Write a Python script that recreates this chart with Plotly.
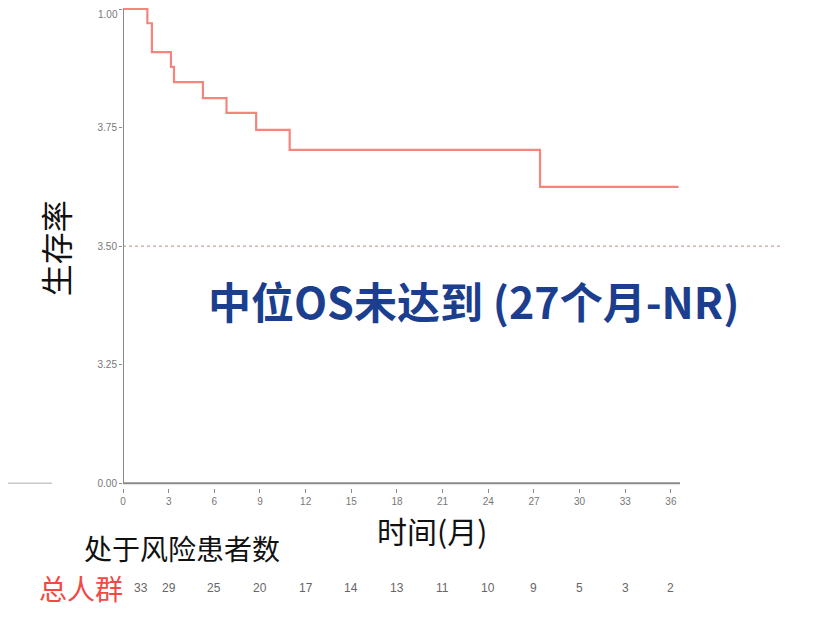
import plotly.graph_objects as go

# Kaplan-Meier step data (months, survival)
km_time = [0, 1.6, 1.9, 3.15, 3.35, 5.25, 6.8, 8.75, 10.95, 27.4, 36.5]
km_surv = [1.0, 0.970, 0.909, 0.878, 0.846, 0.812, 0.781, 0.745, 0.703, 0.625, 0.625]

x_ticks = [0, 3, 6, 9, 12, 15, 18, 21, 24, 27, 30, 33, 36]
y_ticks = [0, 0.25, 0.5, 0.75, 1.0]
y_tick_text = ["0.00", "3.25", "3.50", "3.75", "1.00"]

risk_times = [0, 3, 6, 9, 12, 15, 18, 21, 24, 27, 30, 33, 36]
risk_counts = [33, 29, 25, 20, 17, 14, 13, 11, 10, 9, 5, 3, 2]

W, H = 818, 632
OFF = 8  # page body offset
X0_PX, PX_PER_MONTH = 123 - OFF, 15.22
Y0_PX, PX_PER_UNIT = 483 - OFF, 474
PLOT_RIGHT = 780 - OFF
PLOT_TOP = 0
x_max = (PLOT_RIGHT - X0_PX) / PX_PER_MONTH
y_hi = (Y0_PX - PLOT_TOP) / PX_PER_UNIT
y_lo = -0.01
PLOT_BOTTOM = Y0_PX - y_lo * PX_PER_UNIT
PW = PLOT_RIGHT - X0_PX
PH = PLOT_BOTTOM - PLOT_TOP


def px_(sx):  # screenshot x -> paper x
    return (sx - OFF - X0_PX) / PW


def py_(sy):  # screenshot y -> paper y
    return (PLOT_BOTTOM - (sy - OFF)) / PH


def mx(sx):
    return (sx - OFF - X0_PX) / PX_PER_MONTH


CJK = "Noto Sans CJK SC, Noto Sans, sans-serif"
TICKF = dict(family="Liberation Sans, Arial, sans-serif", size=10, color="#777777")

fig = go.Figure()
fig.add_trace(go.Scatter(
    x=km_time, y=km_surv, mode="lines", line=dict(color="#f4857c", width=2.2, shape="hv"),
    hoverinfo="skip", showlegend=False))

shapes = [
    dict(type="line", xref="x", yref="y", x0=0, x1=x_max, y0=0.5, y1=0.5,
         line=dict(color="#b0908a", width=1, dash="dot")),
    dict(type="line", xref="x", yref="y", x0=0, x1=mx(680), y0=0, y1=0,
         line=dict(color="#8a8a8a", width=2)),
    dict(type="line", xref="x", yref="y", x0=0, x1=0, y0=0, y1=1.0,
         line=dict(color="#8a8a8a", width=2)),
    dict(type="line", xref="paper", yref="y", x0=px_(0), x1=px_(52),
         y0=0, y1=0, line=dict(color="#c8c8c8", width=1.5)),
]


def txt(s, sx, sy, size, color="#111111", **kw):
    font = dict(family=kw.pop("family", CJK), size=size, color=color)
    if kw.pop("bold", False):
        font["weight"] = "bold"
    return dict(text=s, x=px_(sx), y=py_(sy), xref="paper", yref="paper", showarrow=False,
                xanchor="center", yanchor="middle", font=font, **kw)


ann = [
    txt("中位OS未达到 (27个月-NR)", 473, 300, 43, "#1b3f8e", bold=True),
    txt("时间(月)", 432, 530, 30),
    txt("生存率", 55, 248, 32, textangle=-90),
    txt("处于风险患者数", 182, 548, 28),
    txt("总人群", 81, 588, 28, "#f04a45"),
    # top tick label placed just inside the page edge so it is not cut off
    dict(text=y_tick_text[-1], x=px_(119), y=1, xref="paper", yref="paper", showarrow=False,
         xanchor="right", yanchor="top", borderpad=0, font=TICKF),
]
for i, (t, c) in enumerate(zip(risk_times, risk_counts)):
    ann.append(dict(text=str(c), x=t, y=py_(588), xref="x", yref="paper", showarrow=False,
                    xshift=18 if i == 0 else 0, yanchor="middle",
                    font=dict(family="Liberation Sans, Arial, sans-serif", size=12, color="#666666")))

fig.update_layout(
    width=W, height=H, plot_bgcolor="white", paper_bgcolor="white",
    margin=dict(l=X0_PX, r=W - PLOT_RIGHT, t=PLOT_TOP, b=H - PLOT_BOTTOM, pad=0, autoexpand=False),
    xaxis=dict(range=[0, x_max], tickvals=x_ticks, ticktext=[str(v) for v in x_ticks],
               showgrid=False, zeroline=False, showline=False, ticks="outside", ticklen=4,
               tickcolor="#8a8a8a", tickwidth=1, tickfont=TICKF, ticklabeloverflow="allow",
               automargin=False),
    yaxis=dict(range=[y_lo, y_hi], tickvals=y_ticks, ticktext=y_tick_text[:-1] + [""],
               showgrid=False, zeroline=False, showline=False, ticks="outside", ticklen=3,
               tickcolor="#8a8a8a", tickwidth=1, tickfont=TICKF, ticklabeloverflow="allow",
               automargin=False),
    shapes=shapes, annotations=ann, showlegend=False,
)
fig.write_html("out.html")
